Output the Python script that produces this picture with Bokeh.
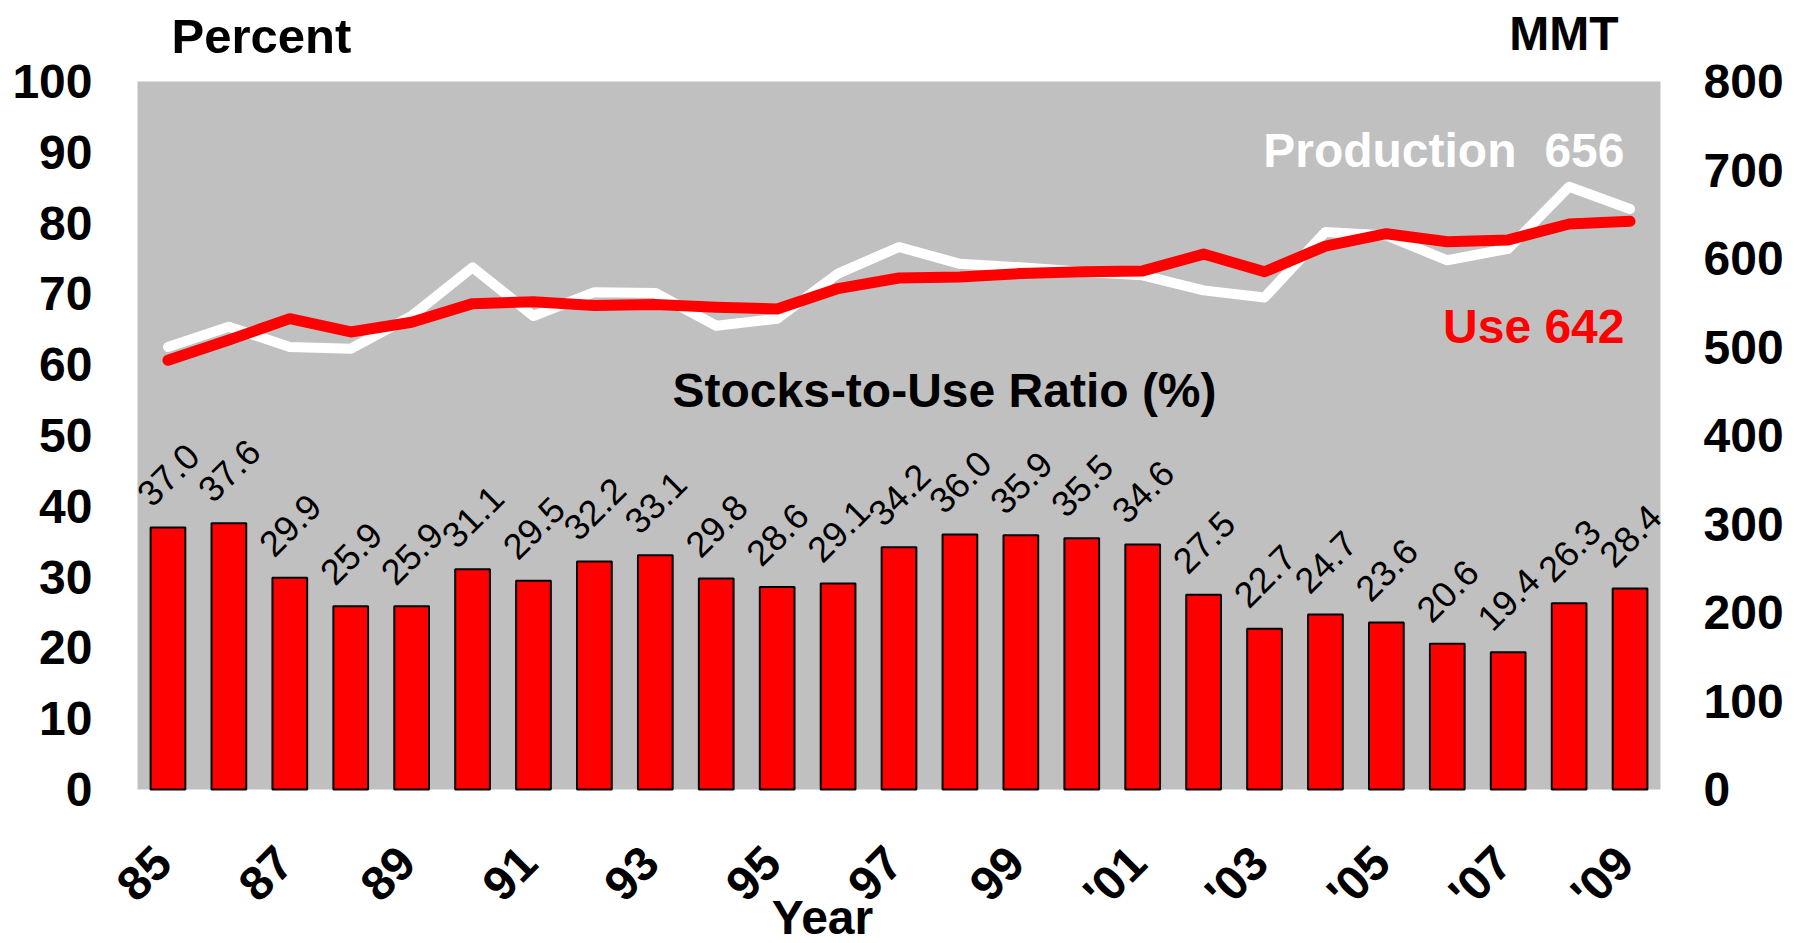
from math import pi

from bokeh.core.properties import value
from bokeh.embed import file_html
from bokeh.models import (BoxAnnotation, ColumnDataSource, FixedTicker, Label,
                          LabelSet, LinearAxis, Range1d)
from bokeh.plotting import figure
from bokeh.resources import INLINE

# Marketing years 1985/86 .. 2009/10
years = ["85", "86", "87", "88", "89", "90", "91", "92", "93", "94", "95", "96",
         "97", "98", "99", "'00", "'01", "'02", "'03", "'04", "'05", "'06",
         "'07", "'08", "'09"]

# Ending stocks as a share of use (%)
stocks_to_use = [37.0, 37.6, 29.9, 25.9, 25.9, 31.1, 29.5, 32.2, 33.1, 29.8,
                 28.6, 29.1, 34.2, 36.0, 35.9, 35.5, 34.6, 27.5, 22.7, 24.7,
                 23.6, 20.6, 19.4, 26.3, 28.4]

# Production and use, million metric tons
production = [500, 523, 500, 498, 535, 590, 535, 562, 561, 524, 532, 583,
              613, 594, 590, 585, 581, 564, 556, 630, 626, 598, 611, 681, 656]
use = [485, 508, 532, 517, 528, 549, 551, 547, 548, 545, 543, 566,
       578, 579, 583, 585, 586, 605, 585, 614, 628, 619, 621, 639, 642]

left_ticks = [0, 10, 20, 30, 40, 50, 60, 70, 80, 90, 100]
right_ticks = [0, 100, 200, 300, 400, 500, 600, 700, 800]

FONT = "Liberation Sans"
GRAY = "#C0C0C0"
RED = "#FF0000"
idx = list(range(len(years)))

# canvas geometry (pixels)
W, H = 1805, 943
FRAME_L, FRAME_R = 100, 1700          # drawing frame, wider than the gray panel
PANEL_L, PANEL_T, PANEL_B = 137, 81, 789
slot = (1660 - PANEL_L) / len(years)  # pixels per year
pct_px = (PANEL_B - PANEL_T) / 100.0  # pixels per percent
mmt_px = (PANEL_B - PANEL_T) / 800.0  # pixels per MMT

x_lo = -0.5 - (PANEL_L - FRAME_L) / slot
x_hi = x_lo + (FRAME_R - FRAME_L) / slot

p = figure(
    frame_width=FRAME_R - FRAME_L, frame_height=H,
    min_border_left=FRAME_L, min_border_right=W - FRAME_R,
    min_border_top=0, min_border_bottom=0,
    x_range=Range1d(x_lo, x_hi),
    y_range=Range1d(-(H - PANEL_B) / pct_px, 100 + PANEL_T / pct_px),
    x_axis_location=None,
    output_backend="svg", toolbar_location=None,
    background_fill_color="white", border_fill_color="white",
    outline_line_color=None,
)
p.extra_y_ranges = {"mmt": Range1d(-(H - PANEL_B) / mmt_px, 800 + PANEL_T / mmt_px)}
p.grid.visible = False

# gray plotting panel
p.add_layout(BoxAnnotation(left=-0.5, right=len(years) - 0.5, bottom=0, top=100,
                           fill_color=GRAY, fill_alpha=1.0, line_color=None,
                           level="underlay"))


def style_axis(ax, standoff):
    ax.axis_line_color = None
    ax.major_tick_line_color = None
    ax.minor_tick_line_color = None
    ax.major_tick_in = 0
    ax.major_tick_out = 0
    ax.minor_tick_in = 0
    ax.minor_tick_out = 0
    ax.major_label_text_font = FONT
    ax.major_label_text_font_style = "bold"
    ax.major_label_text_font_size = "48px"
    ax.major_label_text_color = "black"
    ax.major_label_standoff = standoff


# left axis: percent
yl = p.yaxis[0]
yl.ticker = FixedTicker(ticks=left_ticks)
style_axis(yl, 8)

# right axis: MMT
yr = LinearAxis(y_range_name="mmt", ticker=FixedTicker(ticks=right_ticks))
style_axis(yr, 3)
p.add_layout(yr, "right")

# stocks-to-use bars
src = ColumnDataSource(dict(
    x=idx, top=stocks_to_use, label=[f"{v:.1f}" for v in stocks_to_use]))
p.vbar(x="x", top="top", width=0.57, source=src,
       fill_color=RED, line_color="black", line_width=2)

p.add_layout(LabelSet(
    x="x", y="top", text="label", source=src,
    angle=pi / 4, text_align="center", text_baseline="middle",
    y_offset=53, text_font=value(FONT), text_font_size="36px",
    text_color="black",
))

# production and use lines
p.line(idx, production, y_range_name="mmt", line_color="white",
       line_width=10, line_join="round", line_cap="round")
p.line(idx, use, y_range_name="mmt", line_color=RED,
       line_width=11, line_join="round", line_cap="round")

# slanted year labels under the panel, every other year
tick_idx = idx[::2]
tick_src = ColumnDataSource(dict(
    x=tick_idx, y=[-65 / pct_px] * len(tick_idx),
    text=[years[i] for i in tick_idx]))
p.add_layout(LabelSet(
    x="x", y="y", text="text", source=tick_src,
    angle=pi / 4, text_align="right", text_baseline="middle", x_offset=-5,
    text_font=value(FONT), text_font_style="bold", text_font_size="48px",
    text_color="black",
))

BASE_FIX = 17  # lift so that the glyph baseline lands on the given pixel row


def add_text(text, x_px, base_px, color="black", align="left", size="48px"):
    p.add_layout(Label(
        x=x_px - FRAME_L, y=H - base_px + BASE_FIX,
        x_units="screen", y_units="screen", text=text,
        text_font=FONT, text_font_style="bold", text_font_size=size,
        text_color=color, text_align=align, text_baseline="alphabetic",
    ))


add_text("Percent", 171, 52, size="49px")
add_text("MMT", 1618, 50, align="right")
add_text("Production", 1516, 167, color="white", align="right")
add_text(str(production[-1]), 1624, 167, color="white", align="right")
add_text(f"Use {use[-1]}", 1624, 343, color=RED, align="right")
add_text("Stocks-to-Use Ratio (%)", 944, 407, align="center")
add_text("Year", 822, 934, align="center")

open("out.html", "w").write(file_html(p, INLINE))
